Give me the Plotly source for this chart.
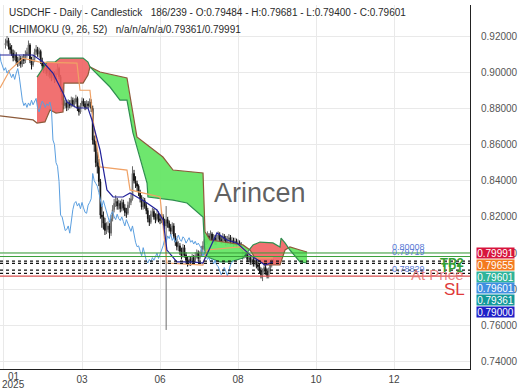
import numpy as np
import plotly.graph_objects as go

# ---------------- data ----------------
first_open = 0.9150
closes = [
    0.9160, 0.9175, 0.9140, 0.9125, 0.9105, 0.9080, 0.9095, 0.9060, 0.9050, 0.9075, 0.9045, 0.9070, 0.9065, 0.9095, 0.9110, 0.9150, 0.9065, 0.9040, 0.9070, 0.9110, 0.9125, 0.9100, 0.9115, 0.9060,
    0.9035, 0.9010, 0.9025, 0.8995, 0.9010, 0.8985, 0.8970, 0.8990, 0.8960, 0.8995, 0.9020, 0.8975, 0.8905, 0.8845,
    0.8815, 0.8830, 0.8805, 0.8830, 0.8815, 0.8845, 0.8820, 0.8835, 0.8855, 0.8800, 0.8780, 0.8815, 0.8840, 0.8825, 0.8805, 0.8825, 0.8815, 0.8835,
    0.8800, 0.8625, 0.8600, 0.8500, 0.8480, 0.8395, 0.8210, 0.8200, 0.8165, 0.8125, 0.8130, 0.8150, 0.8110,
    0.8190, 0.8240, 0.8275, 0.8285, 0.8260, 0.8275, 0.8245, 0.8280, 0.8250, 0.8225, 0.8220,
    0.8265, 0.8280, 0.8300, 0.8440, 0.8400, 0.8385, 0.8370,
    0.8335, 0.8300, 0.8255, 0.8290, 0.8260, 0.8235, 0.8190, 0.8170, 0.8215, 0.8230, 0.8200, 0.8185, 0.8215, 0.8190, 0.8180, 0.8200, 0.8175, 0.8150, 0.8185, 0.8165, 0.8140,
    0.8120, 0.8150, 0.8095, 0.8060, 0.8035, 0.8040, 0.8010, 0.7985, 0.8030, 0.7990, 0.7960, 0.7945, 0.7965, 0.7950, 0.7975, 0.7960, 0.7985, 0.8000, 0.7970, 0.7990, 0.8020, 0.8040,
    0.8075, 0.8060, 0.8095, 0.8080, 0.8105, 0.8070, 0.8085, 0.8060, 0.8080, 0.8100, 0.8075, 0.8065, 0.8090, 0.8080, 0.8055, 0.8075, 0.8085, 0.8060, 0.8070, 0.8050, 0.8065, 0.8045, 0.8055, 0.8040,
    0.8025, 0.7980, 0.8010, 0.7990, 0.7965, 0.7975, 0.7950, 0.7965, 0.7940, 0.7960, 0.7935,
    0.7925, 0.7905, 0.7880, 0.7895, 0.7920, 0.7900, 0.7875, 0.7900, 0.7935, 0.79484, 0.79601,
]
highs = [
    0.9185, 0.9200, 0.9190, 0.9160, 0.9150, 0.9125, 0.9120, 0.9110, 0.9085, 0.9095, 0.9090, 0.9090, 0.9100, 0.9120, 0.9135, 0.9175, 0.9160, 0.9085, 0.9095, 0.9130, 0.9150, 0.9140, 0.9135, 0.9125,
    0.9080, 0.9050, 0.9045, 0.9040, 0.9030, 0.9025, 0.9000, 0.9010, 0.9005, 0.9015, 0.9045, 0.9030, 0.8985, 0.8920,
    0.8860, 0.8855, 0.8845, 0.8850, 0.8845, 0.8865, 0.8860, 0.8855, 0.8875, 0.8865, 0.8815, 0.8830, 0.8860, 0.8855, 0.8840, 0.8845, 0.8840, 0.8855,
    0.8850, 0.8815, 0.8650, 0.8620, 0.8560, 0.8520, 0.8410, 0.8260, 0.8230, 0.8195, 0.8170, 0.8175, 0.8165,
    0.8210, 0.8265, 0.8300, 0.8320, 0.8305, 0.8295, 0.8290, 0.8300, 0.8295, 0.8270, 0.8250,
    0.8285, 0.8305, 0.8325, 0.8480, 0.8460, 0.8425, 0.8400,
    0.8380, 0.8350, 0.8320, 0.8310, 0.8305, 0.8280, 0.8250, 0.8210, 0.8235, 0.8250, 0.8245, 0.8220, 0.8240, 0.8230, 0.8215, 0.8225, 0.8215, 0.8190, 0.8260, 0.8200, 0.8180,
    0.8160, 0.8170, 0.8165, 0.8110, 0.8080, 0.8065, 0.8055, 0.8030, 0.8050, 0.8045, 0.8005, 0.7980, 0.7985, 0.7980, 0.7995, 0.7990, 0.8005, 0.8020, 0.8015, 0.8010, 0.8040, 0.8065,
    0.8095, 0.8100, 0.8120, 0.8110, 0.8125, 0.8115, 0.8105, 0.8100, 0.8100, 0.8120, 0.8115, 0.8095, 0.8110, 0.8105, 0.8095, 0.8095, 0.8105, 0.8100, 0.8090, 0.8085, 0.8085, 0.8080, 0.8075, 0.8070,
    0.8060, 0.8040, 0.8030, 0.8025, 0.8005, 0.7995, 0.7990, 0.7985, 0.7980, 0.7980, 0.7975,
    0.7955, 0.7945, 0.7920, 0.7915, 0.7940, 0.7935, 0.7915, 0.7920, 0.7955, 0.7970, 0.79681,
]
lows = [
    0.9130, 0.9145, 0.9125, 0.9100, 0.9090, 0.9060, 0.9065, 0.9040, 0.9030, 0.9035, 0.9025, 0.9030, 0.9045, 0.9050, 0.9080, 0.9090, 0.9050, 0.9015, 0.9030, 0.9055, 0.9095, 0.9085, 0.9080, 0.9045,
    0.9015, 0.8995, 0.8990, 0.8980, 0.8975, 0.8965, 0.8950, 0.8955, 0.8940, 0.8945, 0.8985, 0.8960, 0.8890, 0.8820,
    0.8795, 0.8800, 0.8785, 0.8790, 0.8800, 0.8805, 0.8810, 0.8805, 0.8825, 0.8785, 0.8760, 0.8770, 0.8805, 0.8810, 0.8790, 0.8795, 0.8800, 0.8805,
    0.8780, 0.8600, 0.8560, 0.8475, 0.8440, 0.8370, 0.8190, 0.8140, 0.8130, 0.8100, 0.8105, 0.8115, 0.8080,
    0.8095, 0.8175, 0.8225, 0.8255, 0.8240, 0.8240, 0.8225, 0.8230, 0.8235, 0.8205, 0.8195,
    0.8210, 0.8250, 0.8265, 0.8290, 0.8385, 0.8360, 0.8340,
    0.8315, 0.8280, 0.8240, 0.8240, 0.8245, 0.8215, 0.8170, 0.8150, 0.8160, 0.8200, 0.8185, 0.8165, 0.8175, 0.8170, 0.8160, 0.8165, 0.8155, 0.8130, 0.7575, 0.8140, 0.8120,
    0.8100, 0.8105, 0.8080, 0.8040, 0.8015, 0.8010, 0.7990, 0.7965, 0.7975, 0.7975, 0.7940, 0.7925, 0.7930, 0.7930, 0.7935, 0.7945, 0.7945, 0.7970, 0.7955, 0.7960, 0.7980, 0.8005,
    0.8030, 0.8045, 0.8050, 0.8065, 0.8070, 0.8055, 0.8055, 0.8045, 0.8045, 0.8065, 0.8060, 0.8050, 0.8055, 0.8065, 0.8040, 0.8045, 0.8060, 0.8045, 0.8045, 0.8035, 0.8040, 0.8030, 0.8035, 0.8025,
    0.8010, 0.7965, 0.7970, 0.7975, 0.7950, 0.7950, 0.7935, 0.7935, 0.7925, 0.7925, 0.7915,
    0.7905, 0.7885, 0.7860, 0.7845, 0.7880, 0.7880, 0.7860, 0.7860, 0.7890, 0.7920, 0.79400,
]
opens = [first_open] + closes[:-1]
bars = list(range(len(closes)))
chikou_shift = 26

# Ichimoku lines (bar index, price)
tenkan_idx = [-3.6, 18, 24.5, 31, 37.6, 40.2, 46.7, 53.9, 56.5, 61.8, 66.3, 70.3, 76.8, 81.4, 85.9, 92.5, 99, 103, 105.5, 112, 116, 122.5, 129, 133.7, 138.2, 144.8, 151.3, 159.8, 169.6, 174.8]
tenkan_val = [0.9095, 0.9095, 0.9056, 0.8995, 0.8885, 0.8835, 0.8802, 0.8802, 0.8736, 0.8570, 0.8349, 0.8310, 0.8310, 0.8332, 0.8310, 0.8277, 0.8238, 0.8183, 0.8017, 0.7951, 0.7951, 0.7951, 0.7945, 0.8034, 0.8111, 0.8072, 0.8056, 0.7990, 0.7934, 0.7951]
kijun_idx = [-3.6, 2.9, 11.4, 22.5, 46.7, 48.7, 55.2, 57.2, 61.8, 79.4, 81.4, 101, 105.5, 129, 131.7, 153.3, 163, 174.8]
kijun_val = [0.8913, 0.9012, 0.9078, 0.9056, 0.9050, 0.8900, 0.8900, 0.8736, 0.8476, 0.8459, 0.8349, 0.8310, 0.7945, 0.7934, 0.8017, 0.8034, 0.7973, 0.7973]
spana_idx = [-3.6, 9.5, 18.0, 20.6, 25.8, 29.1, 33.0, 37.6, 38.2, 50.7, 53.9, 55.2, 61.8, 79.4, 81.4, 85.9, 94.4, 102.9, 109.5, 129.1, 130.4, 133.7, 146.7, 155.2, 159.8, 163.1, 169.6, 179.4, 182.7, 185.9, 192.5, 197.1]
spana_val = [0.8758, 0.8747, 0.8736, 0.8719, 0.8725, 0.8791, 0.8774, 0.8780, 0.8940, 0.8940, 0.8984, 0.9029, 0.9001, 0.8968, 0.8863, 0.8642, 0.8586, 0.8531, 0.8459, 0.8443, 0.8117, 0.8072, 0.8056, 0.8045, 0.8017, 0.7973, 0.7934, 0.7934, 0.8017, 0.8034, 0.8017, 0.8006]
spanb_idx = [20.6, 27.1, 32.3, 35.6, 50.7, 53.9, 55.2, 61.8, 68.3, 74.8, 79.4, 83.3, 87.9, 92.5, 93.1, 109.5, 118.6, 129.1, 130.4, 133.7, 140.2, 146.7, 155.2, 159.8, 161.8, 166.3, 174.8, 179.4, 180.1, 182.7, 185.9, 192.5, 197.1]
spanb_val = [0.8973, 0.9056, 0.9056, 0.9078, 0.9078, 0.9056, 0.9029, 0.8973, 0.8918, 0.8846, 0.8846, 0.8664, 0.8531, 0.8387, 0.8310, 0.8293, 0.8277, 0.8199, 0.7989, 0.7973, 0.7951, 0.7951, 0.7973, 0.8028, 0.8045, 0.8061, 0.8056, 0.8034, 0.8083, 0.8056, 0.8017, 0.7951, 0.7945]

# tick labels
tick_bars = [-1, 50, 101, 152, 203, 254]
tick_text = ["", "03", "06", "08", "10", "12"]
first_tick_month = "01"
first_tick_year = "2025"
price_ticks = [0.74, 0.76, 0.78, 0.80, 0.82, 0.84, 0.86, 0.88, 0.90, 0.92]

# horizontal levels
green_levels = [0.80008, 0.79810]
dotted_levels = [0.79560, 0.79430, 0.79060, 0.78880]
sl_level = 0.78730
level_texts = ["0.80008", "0.79719", "0.78829"]

# right-hand price tags
tag_values = ["0.79991", "0.79655", "0.79601", "0.79601", "0.79361", "0.79000"]
tag_colors = ["#d7143c", "#f37a1f", "#2fb49a", "#3f8fe0", "#13999b", "#1f1fc8"]

header1 = "USDCHF - Daily - Candlestick\u00a0\u00a0\u00a0186/239 - O:0.79484 - H:0.79681 - L:0.79400 - C:0.79601"
header2 = "ICHIMOKU (9, 26, 52)\u00a0\u00a0\u00a0n/a/n/a/n/a/0.79361/0.79991"
watermark = "Arincen"

# ---------------- figure ----------------
W, H = 520, 390
ML, MR, MT, MB = 0, 50, 5, 21
PH = H - MT - MB
Y0, Y1 = 0.73592, 0.93714
X0, X1 = -3.6, 303.6
FONT = "Liberation Sans, Arial, sans-serif"


def py(px):
    """pixel row -> paper y"""
    return (H - MB - px) / PH


fig = go.Figure()

# cloud fill
g = np.linspace(spanb_idx[0], spanb_idx[-1], 3000)
a = np.interp(g, spana_idx, spana_val)
b = np.interp(g, spanb_idx, spanb_val)
up = a >= b
start = 0
for k in range(1, len(g) + 1):
    if k == len(g) or up[k] != up[start]:
        seg = slice(start, min(k + 1, len(g)))
        xs = np.concatenate([g[seg], g[seg][::-1]])
        ys = np.concatenate([a[seg], b[seg][::-1]])
        col = "rgba(102,230,102,0.95)" if up[start] else "rgba(240,98,98,0.9)"
        fig.add_trace(go.Scatter(x=xs, y=ys, fill="toself", fillcolor=col, mode="none",
                                 hoverinfo="skip", showlegend=False))
        start = k

fig.add_trace(go.Scatter(x=spana_idx, y=spana_val, mode="lines",
                         line=dict(color="#8c5a3a", width=1.2), showlegend=False))
fig.add_trace(go.Scatter(x=spanb_idx, y=spanb_val, mode="lines",
                         line=dict(color="#2f8f4f", width=1.2), showlegend=False))

# chikou
fig.add_trace(go.Scatter(x=[i - chikou_shift for i in bars], y=closes, mode="lines",
                         line=dict(color="#5b9fe0", width=1), showlegend=False))

# candles
fig.add_trace(go.Candlestick(
    x=bars, open=opens, high=highs, low=lows, close=closes,
    increasing=dict(line=dict(color="#6a6a6a", width=1), fillcolor="#a8a8a8"),
    decreasing=dict(line=dict(color="#111111", width=1), fillcolor="#111111"),
    whiskerwidth=0, showlegend=False))

fig.add_trace(go.Scatter(x=kijun_idx, y=kijun_val, mode="lines",
                         line=dict(color="#f0a266", width=1.2), showlegend=False))
fig.add_trace(go.Scatter(x=tenkan_idx, y=tenkan_val, mode="lines",
                         line=dict(color="#22229a", width=1.2), showlegend=False))

shapes = []
for v in green_levels:
    shapes.append(dict(type="line", xref="paper", x0=0, x1=1, yref="y", y0=v, y1=v,
                       line=dict(color="#3aa03a", width=1)))
for v in dotted_levels:
    shapes.append(dict(type="line", xref="paper", x0=0, x1=1, yref="y", y0=v, y1=v,
                       line=dict(color="#111111", width=1.2, dash="dot")))
shapes.append(dict(type="line", xref="paper", x0=0, x1=1, yref="y", y0=sl_level, y1=sl_level,
                   line=dict(color="#d9504f", width=1.2)))

ann = []
ann.append(dict(text=header1, xref="paper", yref="paper", x=0, xshift=7, y=py(12.5), xanchor="left",
                yanchor="middle", showarrow=False, font=dict(size=10, color="#2a2a2a", family=FONT)))
ann.append(dict(text=header2, xref="paper", yref="paper", x=0, xshift=7, y=py(30), xanchor="left",
                yanchor="middle", showarrow=False, font=dict(size=10, color="#2a2a2a", family=FONT)))
ann.append(dict(text=watermark, xref="paper", yref="paper", x=260 / 470, y=py(193), xanchor="center",
                yanchor="middle", showarrow=False, font=dict(size=27, color="rgba(70,70,70,0.85)", family=FONT)))
ann.append(dict(text=first_tick_month, xref="paper", yref="paper", x=13.5 / 470, y=py(376),
                xanchor="center", yanchor="middle", showarrow=False,
                font=dict(size=10, color="#444444", family=FONT)))
ann.append(dict(text=first_tick_year, xref="paper", yref="paper", x=13.5 / 470, y=py(384.5),
                xanchor="center", yanchor="middle", showarrow=False,
                font=dict(size=10, color="#444444", family=FONT)))
for t, ypx in zip(level_texts, [247, 252, 269]):
    ann.append(dict(text=t, xref="paper", yref="paper", x=408 / 470, y=py(ypx), xanchor="center",
                    yanchor="middle", showarrow=False, font=dict(size=9, color="#5a7bd6", family=FONT)))
ann.append(dict(text="<b>TP2</b>", xref="paper", yref="paper", x=452 / 470, y=py(262), xanchor="center",
                yanchor="middle", showarrow=False, font=dict(size=13, color="#35a035", family=FONT)))
ann.append(dict(text="<b>TP1</b>", xref="paper", yref="paper", x=452 / 470, y=py(268), xanchor="center",
                yanchor="middle", showarrow=False, font=dict(size=12, color="#35a035", family=FONT)))
ann.append(dict(text="At Price", xref="paper", yref="paper", x=437 / 470, y=py(274), xanchor="center",
                yanchor="middle", showarrow=False, font=dict(size=15, color="rgba(230,110,110,0.85)", family=FONT)))
ann.append(dict(text="SL", xref="paper", yref="paper", x=454 / 470, y=py(289), xanchor="center",
                yanchor="middle", showarrow=False, font=dict(size=17, color="#e03a3a", family=FONT)))
for k, (t, c) in enumerate(zip(tag_values, tag_colors)):
    ann.append(dict(text=t, xref="paper", yref="paper", x=1, xshift=6, y=py(253.3 + 11.7 * k),
                    xanchor="left", yanchor="middle", showarrow=False, bgcolor=c, width=37, height=10,
                    borderpad=0, font=dict(size=10, color="white", family=FONT)))

fig.update_layout(
    width=W, height=H, margin=dict(l=ML, r=MR, t=MT, b=MB),
    paper_bgcolor="white", plot_bgcolor="white",
    shapes=shapes, annotations=ann, showlegend=False, hovermode=False,
    font=dict(family=FONT),
    xaxis=dict(range=[X0, X1], tickvals=tick_bars, ticktext=tick_text, showgrid=True,
               gridcolor="#e9e9e9", gridwidth=1, zeroline=False, showline=True, linecolor="#222222",
               linewidth=1, ticks="", ticklabelstandoff=1, tickfont=dict(size=10, color="#444444"),
               rangeslider=dict(visible=False)),
    yaxis=dict(range=[Y0, Y1], side="right", tickvals=price_ticks, tickformat=".5f", showgrid=True,
               gridcolor="#e9e9e9", zeroline=False, showline=True, linecolor="#222222", linewidth=1,
               ticks="", ticklabelstandoff=8, tickfont=dict(size=10, color="#555555")),
)

fig.write_html("out.html", config={"displayModeBar": False},
               post_script="document.body.style.margin='0';document.body.style.overflow='hidden';")
